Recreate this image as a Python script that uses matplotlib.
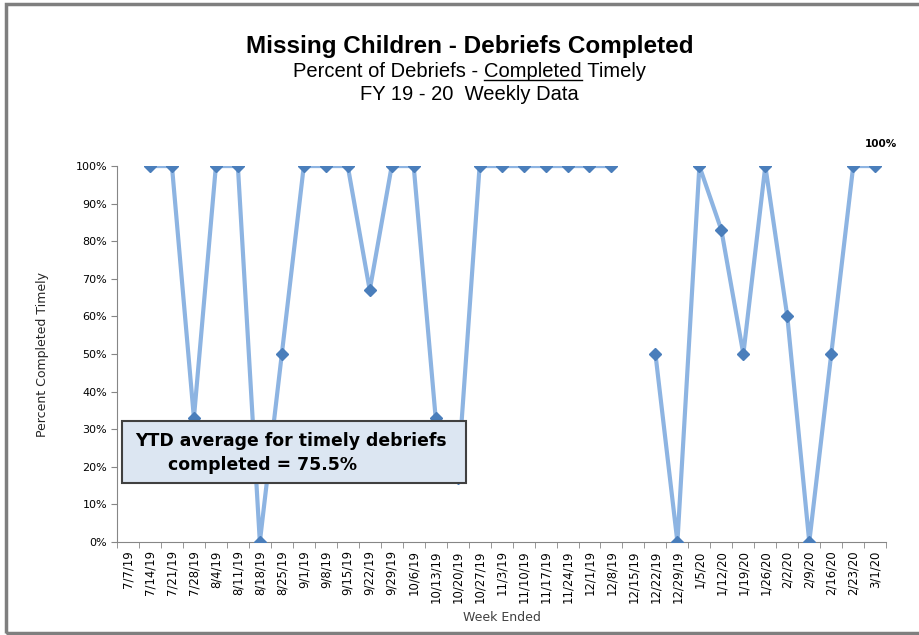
import numpy as np
import matplotlib.pyplot as plt
from matplotlib.patches import Rectangle

weeks = ['7/7/19', '7/14/19', '7/21/19', '7/28/19', '8/4/19', '8/11/19', '8/18/19',
         '8/25/19', '9/1/19', '9/8/19', '9/15/19', '9/22/19', '9/29/19', '10/6/19',
         '10/13/19', '10/20/19', '10/27/19', '11/3/19', '11/10/19', '11/17/19',
         '11/24/19', '12/1/19', '12/8/19', '12/15/19', '12/22/19', '12/29/19',
         '1/5/20', '1/12/20', '1/19/20', '1/26/20', '2/2/20', '2/9/20', '2/16/20',
         '2/23/20', '3/1/20']
pct = [np.nan, 1.0, 1.0, 0.33, 1.0, 1.0, 0.0,
       0.50, 1.0, 1.0, 1.0, 0.67, 1.0, 1.0,
       0.33, 0.17, 1.0, 1.0, 1.0, 1.0,
       1.0, 1.0, 1.0, np.nan, 0.50, 0.0,
       1.0, 0.83, 0.50, 1.0, 0.60, 0.0, 0.50,
       1.0, 1.0]
ytd_avg = 75.5

narrow = ['Liberation Sans', 'DejaVu Sans']

fig = plt.figure(figsize=(9.19, 6.35), dpi=100)
fig.patches.append(Rectangle((0.006, 0.003), 1.2, 0.99, transform=fig.transFigure,
                             fill=False, edgecolor='#7f7f7f', lw=2.5))

ax = fig.add_axes([0.1273, 0.1465, 0.837, 0.592])
x = np.arange(len(weeks))
ax.plot(x, pct, color='#8DB4E2', lw=3, zorder=2)
ax.plot(x, pct, ls='none', marker='D', ms=6, color='#4A7EBB', zorder=3)

ax.set_xlim(-0.5, len(weeks) - 0.5)
ax.set_ylim(0, 1.0)
ax.set_yticks(np.arange(0, 1.01, 0.1))
ax.set_yticklabels([f'{int(round(v * 100))}%' for v in np.arange(0, 1.01, 0.1)],
                   fontsize=8, family='DejaVu Sans')
ax.set_xticks(x)
ax.set_xticklabels(weeks, rotation=90, fontsize=8.4, family='DejaVu Sans')
ax.set_xticks(np.arange(-0.5, len(weeks)), minor=True)
ax.tick_params(axis='x', which='major', length=0, pad=6)
ax.tick_params(axis='x', which='minor', length=4, color='#868686')
ax.tick_params(axis='y', length=4, color='#868686', pad=3)
for s in ['top', 'right']:
    ax.spines[s].set_visible(False)
for s in ['left', 'bottom']:
    ax.spines[s].set_color('#868686')

ax.set_ylabel('Percent Completed Timely', fontsize=9, family='DejaVu Sans', labelpad=19,
              color='#262626')
ax.set_xlabel('Week Ended', fontsize=9, family='DejaVu Sans', labelpad=6, color='#404040')

# data label on last point
ax.annotate('100%', (x[-1], pct[-1]), xytext=(4, 14), textcoords='offset points',
            ha='center', fontsize=7.5, fontweight='bold', family='DejaVu Sans')

# titles
fig.text(0.511, 0.9165, 'Missing Children - Debriefs Completed', ha='center', va='baseline',
         fontsize=17.5, fontweight='bold', family=narrow)
fs = 14.5
y_sub = 0.879
t0 = fig.text(0.5, y_sub, 'Percent of Debriefs - ', ha='left', va='baseline',
              fontsize=fs, family=narrow)
t = fig.text(0.5, y_sub, 'Completed', ha='left', va='baseline', fontsize=fs, family=narrow)
t2 = fig.text(0.5, y_sub, ' Timely', ha='left', va='baseline', fontsize=fs, family=narrow)
fig.canvas.draw()
inv = fig.transFigure.inverted()
w0 = t0.get_window_extent().transformed(inv).width
w1 = t.get_window_extent().transformed(inv).width
w2 = t2.get_window_extent().transformed(inv).width
start = 0.511 - (w0 + w1 + w2) / 2
t0.set_x(start)
t.set_x(start + w0)
t2.set_x(start + w0 + w1)
fig.add_artist(plt.Line2D([start + w0, start + w0 + w1], [y_sub - 3 / 635] * 2,
                          color='black', lw=1, transform=fig.transFigure))
fig.text(0.511, 0.8425, 'FY 19 - 20  Weekly Data', ha='center', va='baseline',
         fontsize=fs, family=narrow)

# YTD box
fig.patches.append(Rectangle((122 / 919, 1 - 483 / 635), (466 - 122) / 919, 62 / 635,
                             transform=fig.transFigure, facecolor='#DCE6F2',
                             edgecolor='#404040', lw=1.5, zorder=5))
fig.text(135 / 919, 1 - 441 / 635, 'YTD average for timely debriefs', ha='left', va='center',
         fontsize=12.4, fontweight='bold', family='DejaVu Sans', zorder=6)
fig.text(168 / 919, 1 - 465 / 635, f'completed = {ytd_avg}%', ha='left', va='center',
         fontsize=12.4, fontweight='bold', family='DejaVu Sans', zorder=6)

fig.savefig('out.png', dpi=100)
